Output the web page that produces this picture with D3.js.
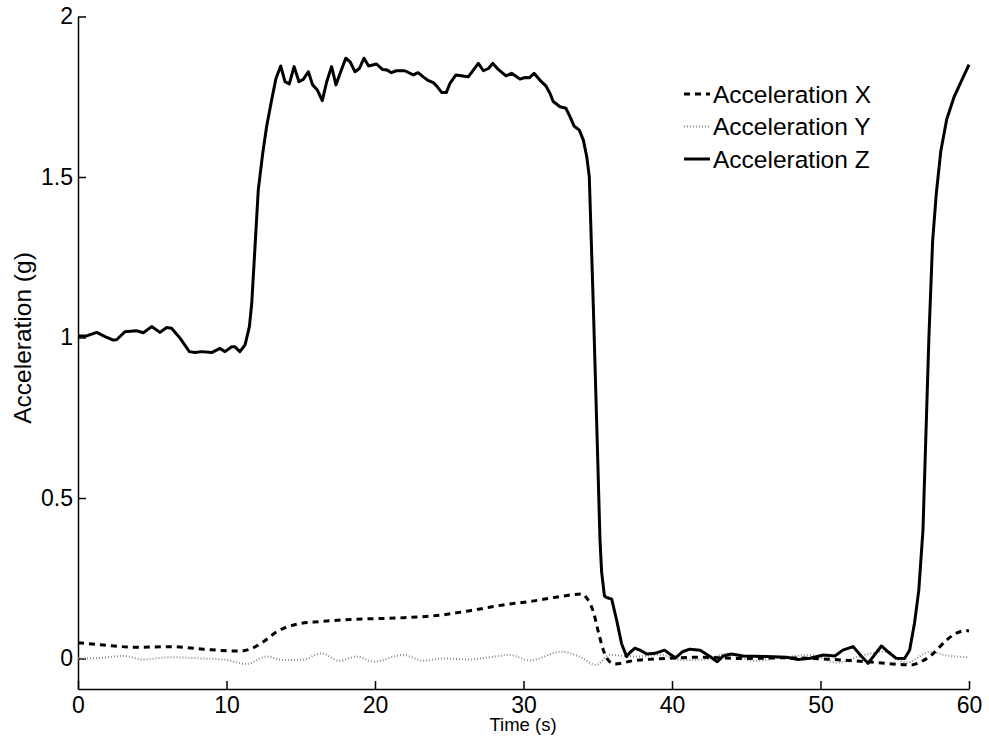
<!DOCTYPE html>
<html>
<head>
<meta charset="utf-8">
<script src="https://cdn.jsdelivr.net/npm/d3@7"></script>
<style>
  html, body { margin: 0; padding: 0; background: #fff; }
  svg { display: block; font-family: "Liberation Sans", Arial, Helvetica, sans-serif; }
</style>
</head>
<body>
<svg id="chart" width="989" height="745"></svg>
<script>
// ---- Data ----
const xTicks = [0, 10, 20, 30, 40, 50, 60];
const yTicks = [0, 0.5, 1, 1.5, 2];
const yTickLabels = ["0", "0.5", "1", "1.5", "2"];
const seriesNames = ["Acceleration X", "Acceleration Y", "Acceleration Z"];

const accXTime = [0, 1.7, 3.95, 6.2, 8.44, 10.9, 11.58, 12.48, 13.38, 14.73, 16.3, 18.54, 21.9, 24.4, 26.4, 28.64, 30.5, 32.46, 33.92, 34.26, 34.7, 35.04, 35.38, 35.8, 36.13, 37.37, 39.6, 41.9, 44.5, 47.5, 50.9, 53.1, 56.1, 56.9, 57.6, 58.5, 59.2, 59.76, 60];
const accXValue = [0.049, 0.042, 0.035, 0.037, 0.029, 0.023, 0.029, 0.052, 0.083, 0.107, 0.115, 0.122, 0.127, 0.135, 0.149, 0.167, 0.178, 0.193, 0.201, 0.188, 0.146, 0.083, 0.026, -0.01, -0.017, -0.007, 0.0, 0.004, 0.0, 0.002, -0.003, -0.01, -0.02, -0.007, 0.016, 0.058, 0.08, 0.087, 0.086];

const accYTime = [0, 1.5, 3.05, 4.4, 6.2, 8.44, 9.8, 11.36, 12.7, 13.83, 15.17, 16.4, 17.6, 18.76, 19.9, 21.9, 23.25, 24.6, 26.4, 27.7, 29.1, 30.4, 32.55, 33.77, 34.9, 35.8, 37.37, 39.2, 40.76, 42.3, 43.7, 45.5, 47.5, 49.3, 51.1, 52.7, 54.2, 55.8, 57.4, 58.3, 60];
const accYValue = [0.0, 0.002, 0.008, -0.003, 0.004, 0.0, -0.003, -0.017, 0.006, -0.005, -0.003, 0.016, -0.007, 0.006, -0.01, 0.011, -0.007, 0.0, -0.003, 0.004, 0.011, -0.006, 0.021, 0.006, -0.02, 0.011, 0.006, 0.011, -0.005, -0.003, 0.016, -0.007, 0.004, 0.011, -0.013, 0.008, 0.021, -0.013, 0.021, 0.011, 0.004];

const accZTime = [0, 0.58, 1.26, 1.82, 2.38, 2.6, 3.16, 3.95, 4.4, 4.96, 5.52, 5.97, 6.3, 6.87, 7.5, 7.88, 8.33, 9.0, 9.56, 9.9, 10.35, 10.57, 10.9, 11.25, 11.54, 11.7, 11.92, 12.14, 12.44, 12.7, 13.04, 13.33, 13.65, 13.94, 14.23, 14.55, 14.88, 15.17, 15.51, 15.8, 16.12, 16.45, 16.75, 17.08, 17.37, 17.69, 18.03, 18.32, 18.65, 18.95, 19.26, 19.57, 20.1, 20.5, 20.82, 21.1, 21.44, 22.0, 22.58, 22.9, 23.25, 23.6, 23.93, 24.2, 24.5, 24.8, 25.05, 25.45, 26.28, 26.62, 26.96, 27.3, 27.64, 27.93, 28.3, 28.82, 29.2, 29.76, 30.1, 30.39, 30.71, 31.1, 31.52, 31.78, 32.0, 32.46, 32.86, 33.13, 33.4, 33.76, 34.03, 34.26, 34.43, 34.7, 34.95, 35.15, 35.26, 35.45, 35.6, 35.94, 36.27, 36.6, 36.94, 37.2, 37.5, 37.84, 38.3, 38.85, 39.5, 39.9, 40.25, 40.7, 41.2, 41.9, 42.56, 43.05, 43.45, 44.0, 44.8, 46.4, 47.7, 48.5, 49.3, 50.2, 50.97, 51.5, 52.2, 52.77, 53.2, 53.55, 54.1, 54.55, 55.1, 55.66, 56.0, 56.33, 56.62, 56.9, 57.1, 57.3, 57.55, 57.8, 58.1, 58.5, 59.0, 59.5, 60];
const accZValue = [1.005, 1.005, 1.016, 1.003, 0.992, 0.993, 1.018, 1.021, 1.015, 1.034, 1.016, 1.031, 1.029, 0.998, 0.956, 0.953, 0.956, 0.953, 0.966, 0.956, 0.971, 0.971, 0.956, 0.977, 1.034, 1.106, 1.283, 1.46, 1.574, 1.657, 1.74, 1.807, 1.846, 1.797, 1.79, 1.844, 1.797, 1.804, 1.828, 1.787, 1.771, 1.738, 1.797, 1.844, 1.787, 1.828, 1.87, 1.859, 1.828, 1.838, 1.87, 1.846, 1.852, 1.835, 1.833, 1.825, 1.831, 1.831, 1.818, 1.825, 1.812, 1.8, 1.794, 1.781, 1.763, 1.763, 1.792, 1.818, 1.812, 1.833, 1.854, 1.831, 1.838, 1.854, 1.835, 1.815, 1.823, 1.805, 1.81, 1.809, 1.823, 1.802, 1.783, 1.761, 1.735, 1.719, 1.714, 1.688, 1.659, 1.646, 1.615, 1.563, 1.501, 1.1, 0.7, 0.37, 0.27, 0.195, 0.19, 0.185, 0.12, 0.047, 0.006, 0.02, 0.032, 0.026, 0.014, 0.016, 0.026, 0.012, 0.0025, 0.021, 0.029, 0.026, 0.006, -0.01, 0.008, 0.014, 0.008, 0.006, 0.004, -0.003, 0.001, 0.011, 0.008, 0.026, 0.037, 0.006, -0.015, 0.006, 0.039, 0.021, 0.0006, 0.0, 0.026, 0.11, 0.213, 0.4, 0.7, 1.0, 1.3, 1.45, 1.58, 1.68, 1.75, 1.8, 1.85];

// ---- Layout ----
const svg = d3.select("#chart");
const plotLeft = 78, plotRight = 969, plotTop = 16.5, plotBottom = 689;
const x = d3.scaleLinear().domain([0, 60]).range([plotLeft, plotRight]);
const y = d3.scaleLinear().domain([-0.095, 2]).range([plotBottom, plotTop]);
const fontFam = "'Liberation Sans', Arial, Helvetica, sans-serif";

// Axes
const yAxis = d3.axisLeft(y).tickValues(yTicks).tickSizeInner(-8).tickSizeOuter(0)
  .tickPadding(5).tickFormat((d, i) => yTickLabels[i]);
const gy = svg.append("g").attr("transform", `translate(${plotLeft},0)`).call(yAxis);
const xAxis = d3.axisBottom(x).tickValues(xTicks).tickSizeInner(-8).tickSizeOuter(0)
  .tickPadding(8).tickFormat(d3.format("d"));
const gx = svg.append("g").attr("transform", `translate(0,${plotBottom})`).call(xAxis);

[gx, gy].forEach(g => {
  g.attr("font-size", 23).attr("font-family", fontFam);
  g.select(".domain").attr("stroke", "#000").attr("stroke-width", 1.5);
  g.selectAll(".tick line").attr("stroke", "#000").attr("stroke-width", 1.5);
  g.selectAll(".tick text").attr("fill", "#000");
});

// Axis titles
svg.append("text").attr("x", 523).attr("y", 731).attr("text-anchor", "middle")
  .attr("font-size", 18.5).text("Time (s)");
svg.append("text").attr("transform", "translate(31,338) rotate(-90)").attr("text-anchor", "middle")
  .attr("font-size", 24.5).text("Acceleration (g)");

// Lines
const line = d3.line().x(d => x(d[0])).y(d => y(d[1]));
const smooth = d3.line().x(d => x(d[0])).y(d => y(d[1])).curve(d3.curveMonotoneX);

const dataX = accXTime.map((t, i) => [t, accXValue[i]]);
const dataY = accYTime.map((t, i) => [t, accYValue[i]]);
const dataZ = accZTime.map((t, i) => [t, accZValue[i]]);

const styles = [
  { stroke: "#000", width: 3, dash: "6,5" },
  { stroke: "#8a8a8a", width: 2, dash: "1,2" },
  { stroke: "#000", width: 3, dash: null }
];

svg.append("path").datum(dataY).attr("d", smooth).attr("fill", "none")
  .attr("stroke", styles[1].stroke).attr("stroke-width", styles[1].width).attr("stroke-dasharray", styles[1].dash);
svg.append("path").datum(dataX).attr("d", smooth).attr("fill", "none")
  .attr("stroke", styles[0].stroke).attr("stroke-width", styles[0].width).attr("stroke-dasharray", styles[0].dash);
svg.append("path").datum(dataZ).attr("d", line).attr("fill", "none")
  .attr("stroke", styles[2].stroke).attr("stroke-width", styles[2].width).attr("stroke-linejoin", "round");

// Legend
const legend = svg.append("g");
seriesNames.forEach((name, i) => {
  const ly = 94 + i * 32.5;
  legend.append("line").attr("x1", 684).attr("x2", 710).attr("y1", ly).attr("y2", ly)
    .attr("stroke", styles[i].stroke).attr("stroke-width", styles[i].width)
    .attr("stroke-dasharray", styles[i].dash);
  legend.append("text").attr("x", 713).attr("y", ly + 8.5).attr("font-size", 24.5).text(name);
});
</script>
</body>
</html>
